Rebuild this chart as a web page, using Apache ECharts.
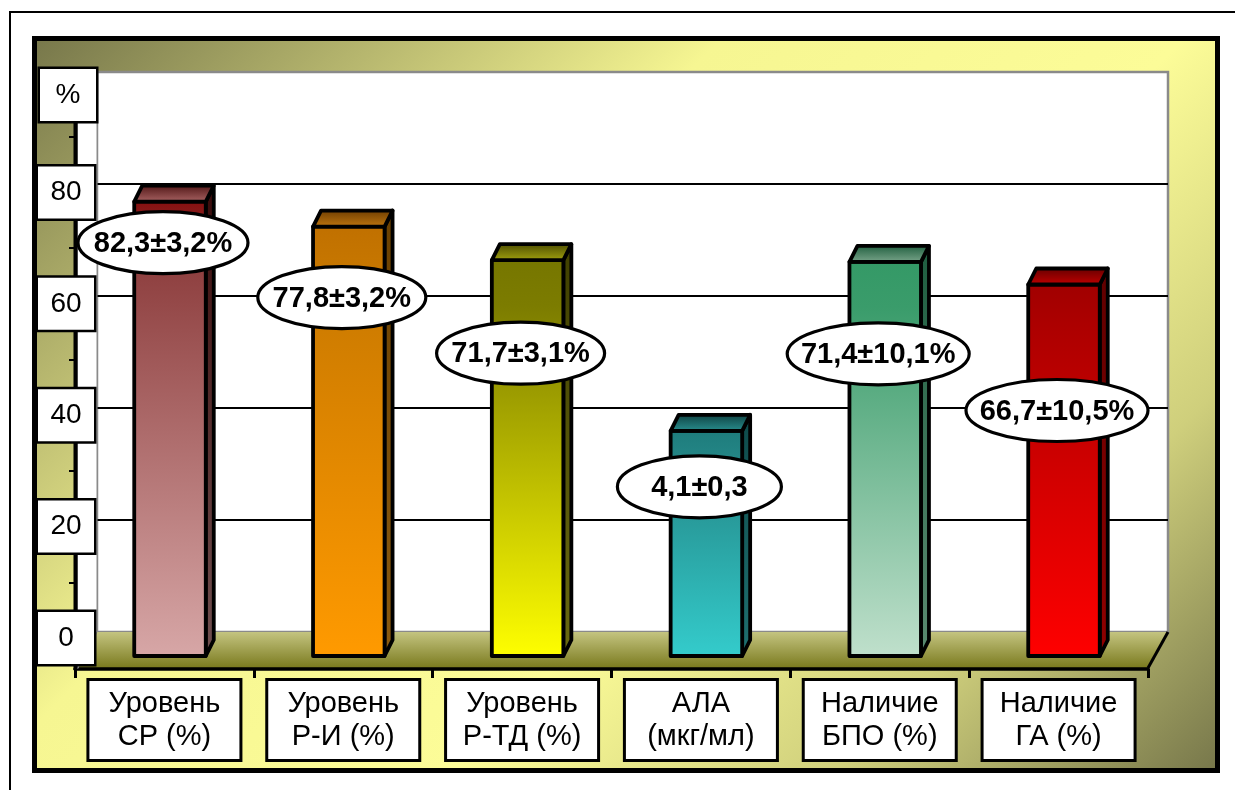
<!DOCTYPE html>
<html>
<head>
<meta charset="utf-8">
<script src="https://cdn.jsdelivr.net/npm/echarts@6.0.0/dist/echarts.min.js"></script>
<style>
  html, body { margin: 0; padding: 0; background: #ffffff; }
  #chart { width: 1235px; height: 790px; }
</style>
</head>
<body>
<div id="chart"></div>
<script>
// ---------------- DATA ----------------
const categories = [
  'Уровень\nСР (%)',
  'Уровень\nР-И (%)',
  'Уровень\nР-ТД (%)',
  'АЛА\n(мкг/мл)',
  'Наличие\nБПО (%)',
  'Наличие\nГА (%)'
];
const barValues = [82.3, 77.8, 71.7, 40.8, 71.4, 67.3];
const valueLabels = ['82,3±3,2%', '77,8±3,2%', '71,7±3,1%', '4,1±0,3', '71,4±10,1%', '66,7±10,5%'];
const yTickValues = [0, 20, 40, 60, 80];
const yUnit = '%';

// ---------------- STYLE / LAYOUT ----------------
const FONT = '"Liberation Sans", Arial, sans-serif';
const DX = 8, DY = 16;
const BAR_RATIO = 0.40;
const barStyles = [
  { front: ['#850e0e', '#8c3c3c', '#d7a7a7'], top: ['#4a1010', '#b06a6a'], side: ['#3a0a0a', '#705050'] },
  { front: ['#c07000', '#c87800', '#ff9a00'], top: ['#6a3a00', '#c47a10'], side: ['#6a4000', '#8a5a10'] },
  { front: ['#767600', '#7c7c00', '#ffff00'], top: ['#484800', '#a8a810'], side: ['#404000', '#6a6a10'] },
  { front: ['#1e7c7c', '#238585', '#34cccc'], top: ['#0e3c3c', '#2a9494'], side: ['#0e4a4a', '#1f7070'] },
  { front: ['#349966', '#3a9c6b', '#c0e0cc'], top: ['#1a5a3a', '#80aa90'], side: ['#1e5e40', '#5a8a70'] },
  { front: ['#a00000', '#ad0000', '#ff0000'], top: ['#600000', '#c80000'], side: ['#600000', '#900000'] }
];
const labelDx = -7;
const labelDy = [41, 71, 93, 56, 92, 126];
const labelRx = [85, 84, 84, 82, 91, 91];
const labelRy = 31;
const WALL_LEFT = 97, WALL_TOP = 72, WALL_BOTTOM = 632;

function vGrad(stops) {
  const n = stops.length;
  return new echarts.graphic.LinearGradient(0, 0, 0, 1,
    stops.map((c, k) => ({ offset: n === 3 && k === 1 ? 0.12 : k / (n - 1), color: c })));
}

function renderBar(params, api) {
  const i = api.value(0), v = api.value(1);
  const top = api.coord([i, v]);
  const base = api.coord([i, 0]);
  const w = api.size([1, 0])[0] * BAR_RATIO;
  const x0 = top[0] - w / 2, x1 = top[0] + w / 2, yt = top[1], yb = base[1];
  const s = barStyles[i];
  const lw = 3.8;
  return {
    type: 'group',
    children: [
      { type: 'polygon',
        shape: { points: [[x1, yt], [x1 + DX, yt - DY], [x1 + DX, yb - DY], [x1, yb]] },
        style: { fill: vGrad(s.side), stroke: '#000', lineWidth: lw, lineJoin: 'round' } },
      { type: 'rect',
        shape: { x: x0, y: yt, width: w, height: yb - yt },
        style: { fill: vGrad(s.front), stroke: '#000', lineWidth: lw, lineJoin: 'round' } },
      { type: 'polygon',
        shape: { points: [[x0, yt], [x0 + DX, yt - DY], [x1 + DX, yt - DY], [x1, yt]] },
        style: { fill: vGrad(s.top), stroke: '#000', lineWidth: lw, lineJoin: 'round' } }
    ]
  };
}

// side wall (white strip left of the back wall) + front value-axis line
function renderSideWall(params, api) {
  const cs = params.coordSys;           // front grid: x = axis position
  const ax = cs.x + 0.5;
  const yb = cs.y + cs.height;
  return {
    type: 'group',
    children: [
      { type: 'polygon',
        shape: { points: [[ax + 2, 110], [WALL_LEFT, WALL_TOP], [WALL_LEFT, WALL_BOTTOM], [ax + 2, yb]] },
        style: { fill: '#ffffff', stroke: '#8a8a8a', lineWidth: 1 } },
      { type: 'line',
        shape: { x1: ax, y1: 110, x2: ax, y2: yb + 1 },
        style: { stroke: '#000', lineWidth: 4 } }
    ]
  };
}

function renderLabel(params, api) {
  const i = api.value(0), v = api.value(1);
  const top = api.coord([i, v]);
  const cx = top[0] + labelDx, cy = top[1] + labelDy[i];
  return {
    type: 'group',
    children: [
      { type: 'ellipse', shape: { cx: cx, cy: cy, rx: labelRx[i], ry: labelRy },
        style: { fill: '#ffffff', stroke: '#000', lineWidth: 3.2 } },
      { type: 'text', x: cx, y: cy + 1,
        style: { text: valueLabels[i], fill: '#000', font: 'bold 29px ' + FONT,
                 align: 'center', verticalAlign: 'middle',
                 textAlign: 'center', textVerticalAlign: 'middle' } }
    ]
  };
}

const chart = echarts.init(document.getElementById('chart'), null, { renderer: 'canvas' });

const panelGrad = new echarts.graphic.LinearGradient(32, 36, 32 + 962, 36 + 962, [
  { offset: 0, color: '#76764a' },
  { offset: 0.36, color: '#f6f692' },
  { offset: 0.6, color: '#fcfc98' },
  { offset: 0.8, color: '#cfcf7c' },
  { offset: 1, color: '#76764a' }
], true);

const option = {
  backgroundColor: '#ffffff',
  animation: false,
  graphic: {
    elements: [
      { type: 'rect', id: 'outer', z: -20, shape: { x: 10, y: 12, width: 1400, height: 900 },
        style: { fill: '#ffffff', stroke: '#000', lineWidth: 2 } },
      { type: 'rect', id: 'panel', z: -19, shape: { x: 34.5, y: 38.5, width: 1183, height: 732 },
        style: { fill: panelGrad, stroke: '#000', lineWidth: 5 } },
      { type: 'polygon', id: 'floor', z: 1, shape: { points: [[97, 632], [1168, 632], [1148, 668], [76, 668]] },
        style: { fill: new echarts.graphic.LinearGradient(0, 0, 0, 1, [
          { offset: 0, color: '#c4c480' }, { offset: 1, color: '#7a7a1e' }]) } },
      { type: 'polyline', id: 'flooredge', z: 2, shape: { points: [[1168, 632], [1148, 668]] },
        style: { stroke: '#000', lineWidth: 3 } },
      { type: 'text', id: 'unit', z: 70, x: 68, y: 95,
        style: { text: yUnit, font: '28px ' + FONT, fill: '#000',
                 align: 'center', verticalAlign: 'middle',
                 backgroundColor: '#ffffff', borderColor: '#000', borderWidth: 2.5,
                 width: 48, height: 44, padding: [4, 4], lineHeight: 44 } }
    ]
  },
  grid: [
    { left: 97, right: 67, top: 72, bottom: 158, show: true, backgroundColor: '#ffffff',
      borderColor: '#8a8a8a', borderWidth: 2.5, z: -3 },
    { left: 80.6, right: 81.6, top: 104, bottom: 134 },
    { left: 75, right: 87, top: 81, bottom: 121 },
    { left: 75, right: 87, top: 81, bottom: 152 }
  ],
  xAxis: [
    { gridIndex: 0, type: 'value', show: false },
    { gridIndex: 1, type: 'category', data: categories, show: false },
    { gridIndex: 2, type: 'category', data: categories, z: 6,
      axisLine: { show: true, lineStyle: { color: '#000', width: 3.5 } },
      axisTick: { show: true, length: 9, inside: false, lineStyle: { color: '#000', width: 3 } },
      axisLabel: {
        margin: 12, color: '#000', fontFamily: FONT, fontSize: 29, lineHeight: 33,
        align: 'center', backgroundColor: '#ffffff', borderColor: '#000', borderWidth: 3,
        width: 142, height: 66, padding: [6, 4]
      },
      splitLine: { show: false } },
    { gridIndex: 3, type: 'value', show: false }
  ],
  yAxis: [
    { gridIndex: 0, type: 'value', min: 0, max: 100, interval: 20,
      axisLine: { show: false }, axisTick: { show: false }, axisLabel: { show: false },
      splitLine: { show: true, showMinLine: false, showMaxLine: false,
                   lineStyle: { color: '#000', width: 2 } } },
    { gridIndex: 1, type: 'value', min: 0, max: 100, show: false },
    { gridIndex: 2, type: 'value', min: 0, max: 100, show: false },
    { gridIndex: 3, type: 'value', min: 0, max: 100, interval: 20, z: 60,
      axisLine: { show: false }, axisTick: { show: false },
      minorTick: { show: true, splitNumber: 2, length: 6, lineStyle: { color: '#000', width: 2 } },
      minorSplitLine: { show: false }, splitLine: { show: false },
      axisLabel: {
        showMaxLabel: false, margin: 9, align: 'center', color: '#000',
        fontFamily: FONT, fontSize: 28, lineHeight: 44,
        backgroundColor: '#ffffff', borderColor: '#000', borderWidth: 2.5,
        width: 48, height: 44, padding: [4, 4],
        formatter: function (v) { return yTickValues.indexOf(v) >= 0 ? String(v) : ''; }
      } }
  ],
  series: [
    { type: 'custom', name: 'sidewall', xAxisIndex: 2, yAxisIndex: 2, z: 50, silent: true,
      renderItem: renderSideWall, data: [[0, 0]] },
    { type: 'custom', name: 'bars', xAxisIndex: 1, yAxisIndex: 1, z: 3,
      renderItem: renderBar, data: barValues.map((v, i) => [i, v]) },
    { type: 'custom', name: 'labels', xAxisIndex: 1, yAxisIndex: 1, z: 55,
      renderItem: renderLabel, data: barValues.map((v, i) => [i, v]) }
  ]
};
chart.setOption(option);
</script>
</body>
</html>
